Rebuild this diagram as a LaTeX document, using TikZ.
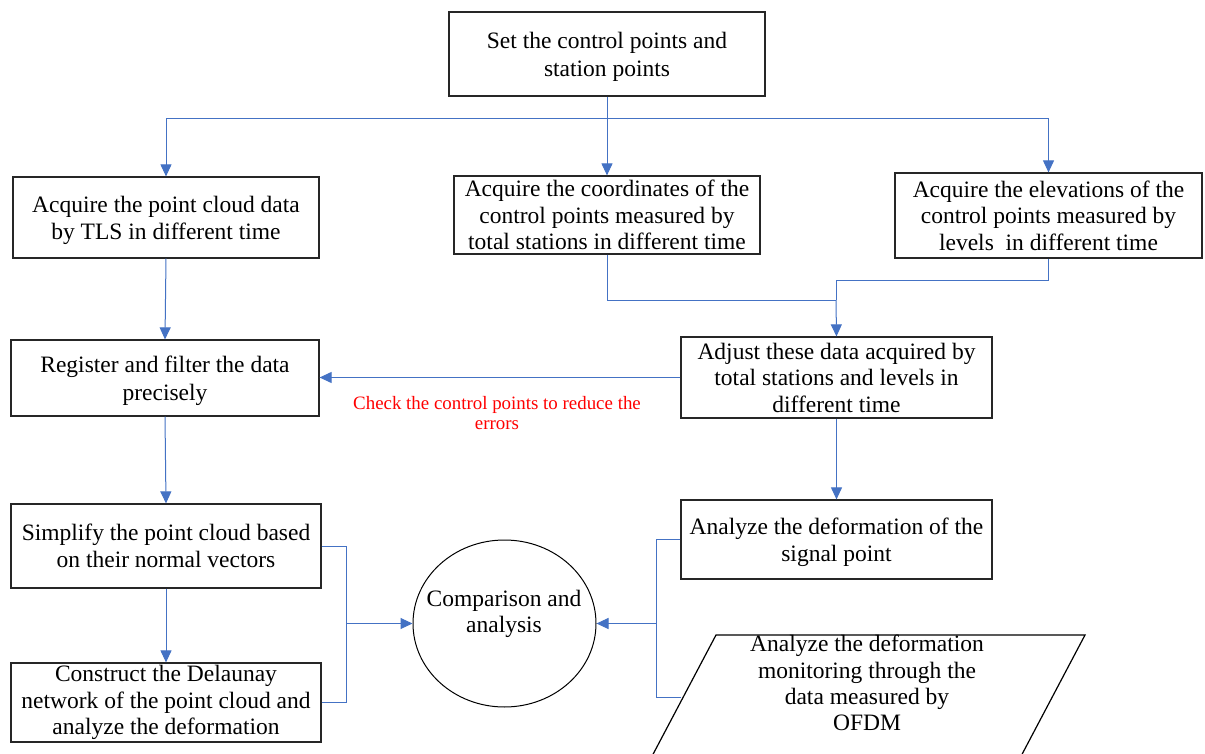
\documentclass[tikz,border=0pt]{standalone}
\usepackage{fontspec}
\setmainfont{Liberation Serif}
\usetikzlibrary{arrows.meta,calc,shapes.geometric}
\definecolor{conn}{HTML}{4472C4}
\definecolor{redtxt}{HTML}{FF0000}
\newcommand{\firstline}{\rule{0pt}{22pt}}
\tikzset{
  box/.style={draw=black!85, line width=1.2pt, rectangle, inner sep=0pt, align=center,
    font=\fontsize{23.5}{26.5}\selectfont},
  boxtwo/.style={box, font=\fontsize{23.5}{27.5}\selectfont},
  conline/.style={draw=conn, line width=1pt},
  arr/.style={conline, -{Triangle[length=12pt,width=11pt]}},
}
\begin{document}
\begin{tikzpicture}[x=1pt,y=-1pt]
\useasboundingbox (0,0) rectangle (1205,754);
\fill[white] (0,0) rectangle (1205,754);
% boxes
\node[boxtwo, minimum width=316pt, minimum height=84pt] (top) at (607,54) {\firstline Set the control points and\\station points};
\node[boxtwo, minimum width=306pt, minimum height=81pt] (L1) at (166,217.5) {\firstline Acquire the point cloud data\\by TLS in different time};
\node[box, minimum width=306pt, minimum height=78pt] (M1) at (607,215) {Acquire the coordinates of the\\control points measured by\\total stations in different time};
\node[box, minimum width=307pt, minimum height=85pt] (R1) at (1048.5,215.5) {Acquire the elevations of the\\control points measured by\\levels\ \ in different time};
\node[boxtwo, minimum width=308pt, minimum height=76pt] (L2) at (165,378) {\firstline Register and filter the data\\precisely};
\node[box, minimum width=311pt, minimum height=81pt] (R2) at (836.5,377.5) {Adjust these data acquired by\\total stations and levels in\\different time};
\node[boxtwo, minimum width=310pt, minimum height=84pt] (L3) at (166,546) {Simplify the point cloud based\\on their normal vectors};
\node[box, minimum width=310pt, minimum height=79pt] (L4) at (166,702.5) {Construct the Delaunay\\network of the point cloud and\\analyze the deformation};
\node[boxtwo, minimum width=311pt, minimum height=79pt] (R3) at (836.5,539.5) {\firstline Analyze the deformation of the\\signal point};
\node[draw=black, line width=1pt, ellipse, minimum width=183pt, minimum height=167pt, inner sep=0pt] (circ) at (504.5,623.5) {};
\node[align=center, inner sep=0pt, font=\fontsize{23.5}{26.5}\selectfont] (ctext) at (504,614) {Comparison and\\analysis};
% parallelogram (cut by the lower edge)
\draw[black, line width=1.2pt] (650,760) -- (716,635) -- (1085,635) -- (1019,760);
\coordinate (pl) at (681,697);
\node[align=center, inner sep=0pt, font=\fontsize{23.5}{26.3}\selectfont] (ptext) at (867,683) {Analyze the deformation\\monitoring through the\\data measured by\\OFDM};
% red label
\node[align=center, inner sep=0pt, text=redtxt, font=\fontsize{18.9}{19.5}\selectfont] (lbl) at (497,413) {Check the control points to reduce the\\errors};
% connectors
\coordinate (jt) at (607,119);
\draw[arr] (top.south) -- (M1.north);
\draw[arr] (jt) -| (L1.north);
\draw[arr] (jt) -| (R1.north);
\draw[arr] (L1.south) -- (L2.north);
\coordinate (jm) at (836,300);
\draw[conline] (M1.south) |- (jm);
\draw[conline] (R1.south) |- (836,280) -- (jm);
\draw[arr] (jm) -- (R2.north);
\draw[arr] (R2.west) -- (R2.west -| L2.east);
\draw[arr] (L2.south) -- (L3.north);
\draw[arr] (L3.south) -- (L4.north);
\draw[arr] (R2.south) -- (R3.north);
\coordinate (j1) at (346,623.5);
\draw[conline] (L3.east) -| (j1);
\draw[conline] (L4.east) -| (j1);
\draw[arr] (j1) -- (circ.west);
\coordinate (j2) at (656,623.5);
\draw[conline] (R3.west) -| (j2);
\draw[conline] (pl) -| (j2);
\draw[arr] (j2) -- (circ.east);
\end{tikzpicture}
\end{document}
